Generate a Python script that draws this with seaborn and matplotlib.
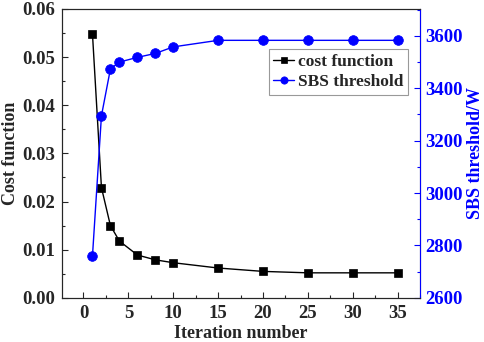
import matplotlib
matplotlib.use("Agg")
import matplotlib.pyplot as plt
import seaborn as sns
from matplotlib.ticker import MultipleLocator

iterations = [1, 2, 3, 4, 6, 8, 10, 15, 20, 25, 30, 35]
cost = [0.0548, 0.0229, 0.0150, 0.0118, 0.0089, 0.0079, 0.0073, 0.0062, 0.0055, 0.0052, 0.0052, 0.0052]
sbs = [2760, 3295, 3474, 3500, 3518, 3533, 3558, 3583, 3583, 3583, 3583, 3583]

sns.set_style("ticks")
plt.rcParams["font.family"] = ["Liberation Serif", "DejaVu Serif"]
plt.rcParams["font.weight"] = "bold"
plt.rcParams["xtick.direction"] = "in"
plt.rcParams["ytick.direction"] = "in"

fig = plt.figure(figsize=(4.84, 3.42), dpi=100)
ax = fig.add_axes([0.128, 0.129, 0.74, 0.845])
ax2 = ax.twinx()

sns.lineplot(x=iterations, y=cost, ax=ax, color="black", marker="s", markersize=5.5,
             markeredgewidth=0.5, markeredgecolor="black", linewidth=1.0,
             label="cost function", legend=False)
sns.lineplot(x=iterations, y=sbs, ax=ax2, color="#0000ff", marker="o", markersize=7,
             markeredgewidth=0.5, markeredgecolor="#0000ff", linewidth=1.0,
             label="SBS threshold", legend=False)

ax.set_xlim(-2.4, 37.5)
ax.set_ylim(0, 0.06)
ax2.set_ylim(2600, 3703)

ax.xaxis.set_major_locator(MultipleLocator(5))
ax.xaxis.set_minor_locator(MultipleLocator(2.5))
ax.yaxis.set_major_locator(MultipleLocator(0.01))
ax.yaxis.set_minor_locator(MultipleLocator(0.005))
ax.yaxis.set_major_formatter(matplotlib.ticker.FormatStrFormatter("%.2f"))
ax2.yaxis.set_major_locator(MultipleLocator(200))
ax2.yaxis.set_minor_locator(MultipleLocator(100))

ax.tick_params(which="major", length=4, width=0.8, labelsize=13.5, top=False, pad=5)
ax.tick_params(which="minor", length=2.5, width=0.8, top=False)
ax2.tick_params(which="major", length=4, width=0.8, labelsize=13.5, colors="#0000ff", pad=4)
ax2.tick_params(which="minor", length=2.5, width=0.8, colors="#0000ff")

ax.set_xlabel("Iteration number", fontsize=13, fontweight="bold", labelpad=2)
ax.set_ylabel("Cost function", fontsize=13, fontweight="bold", labelpad=2)
ax2.set_ylabel("SBS threshold/W", fontsize=13, fontweight="bold", color="#0000ff", labelpad=3)

for s in ax.spines.values():
    s.set_linewidth(0.8)
for s in ax2.spines.values():
    s.set_linewidth(0.8)
ax2.spines["right"].set_color("#0000ff")

h1, l1 = ax.get_legend_handles_labels()
h2, l2 = ax2.get_legend_handles_labels()
leg = ax2.legend(h1 + h2, l1 + l2, loc="upper right", bbox_to_anchor=(0.965, 0.86),
                 fontsize=12.5, frameon=True, fancybox=False, edgecolor="gray",
                 handlelength=1.2, handletextpad=0.2, borderpad=0.25, labelspacing=0.25,
                 borderaxespad=0, markerscale=0.75)
leg.get_frame().set_linewidth(0.8)

fig.savefig("out.png", dpi=100)
